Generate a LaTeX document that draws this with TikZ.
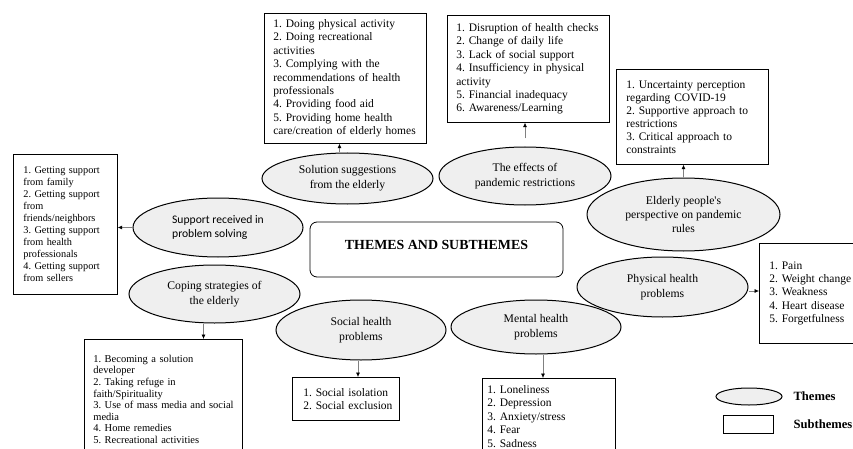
\documentclass[tikz,border=0pt]{standalone}
\usepackage{fontspec}
\setmainfont{Liberation Serif}
\newfontfamily\calibri{Carlito}
\usetikzlibrary{shapes.geometric,arrows.meta,positioning}
\definecolor{themefill}{HTML}{EFEFEF}
\tikzset{
         theme/.style={ellipse,draw=black,line width=1pt,fill=themefill,inner sep=0pt,align=center,
                       font=\fontsize{11.7}{15}\selectfont},
         subbox/.style n args={2}{rectangle,draw=black,line width=0.7pt,anchor=north west,align=left,
                        inner xsep=0pt,inner ysep=0pt,minimum width=#1,text width=#1,
                        execute at begin node={\leftskip=#2\relax\frenchspacing},
                        font=\fontsize{11.5}{13.4}\selectfont},
         link/.style={draw=black!50,line width=0.6pt,-{Latex[length=4.5pt,width=4pt,color=black]}},
         legtext/.style={anchor=west,font=\fontsize{12.6}{14}\selectfont\bfseries}
        }
\begin{document}
\begin{tikzpicture}[x=1pt,y=-1pt]
\useasboundingbox (0,0) rectangle (853,449);
\clip (0,0) rectangle (853,449);
%centre
\node[draw,rounded corners=7pt,line width=0.8pt,minimum width=253pt,minimum height=55pt,
      text height=9.2pt,text depth=9.2pt,font=\fontsize{13.9}{16}\selectfont\bfseries] (title) at (436.5,249.5) {THEMES AND SUBTHEMES};
%themes
\node[theme,minimum width=170pt,minimum height=59pt,align=left,font=\calibri\fontsize{11.6}{14}\selectfont] (sup) at (218,227.5) {Support received in\\problem solving};
\node[theme,minimum width=171pt,minimum height=58pt] (cop) at (214.5,294) {Coping strategies of\\the elderly};
\node[theme,minimum width=171pt,minimum height=51pt] (sol) at (347.5,178.5) {Solution suggestions\\from the elderly};
\node[theme,minimum width=172pt,minimum height=58pt] (eff) at (525,176) {The effects of\\pandemic restrictions};
\node[theme,minimum width=193pt,minimum height=73pt,font=\fontsize{11.7}{14.2}\selectfont] (per) at (683.5,214.5) {Elderly people\textquotesingle s\\perspective on pandemic\\rules};
\node[theme,minimum width=171pt,minimum height=60pt] (phy) at (662.5,287) {Physical health\\problems};
\node[theme,minimum width=170pt,minimum height=60pt] (soc) at (361,330) {Social health\\problems};
\node[theme,minimum width=170pt,minimum height=54pt] (men) at (536,327) {Mental health\\problems};
%subthemes
\node[subbox={104pt}{10pt},minimum height=140pt,font=\fontsize{10.3}{12}\selectfont] (supbox) at (13,154)
     {1. Getting support\\from family\\2. Getting support\\from\\friends/neighbors\\3. Getting support\\from health\\professionals\\4. Getting support\\from sellers};
\node[subbox={162pt}{9pt},minimum height=130pt] (solbox) at (264,13)
     {1. Doing physical activity\\2. Doing recreational\\activities\\3. Complying with the\\recommendations of health\\professionals\\4. Providing food aid\\5. Providing home health\\care/creation of elderly homes};
\node[subbox={162pt}{9pt},minimum height=107pt] (effbox) at (447,15)
     {1. Disruption of health checks\\2. Change of daily life\\3. Lack of social support\\4. Insufficiency in physical\\activity\\5. Financial inadequacy\\6. Awareness/Learning};
\node[subbox={152pt}{10pt},minimum height=95pt,font=\fontsize{11.5}{13}\selectfont] (perbox) at (616,69)
     {1. Uncertainty perception\\regarding COVID-19\\2. Supportive approach to\\restrictions\\3. Critical approach to\\constraints};
\node[subbox={100pt}{10pt},minimum height=100pt] (phybox) at (759,243)
     {1. Pain\\2. Weight change\\3. Weakness\\4. Heart disease\\5. Forgetfulness};
\node[subbox={158pt}{9pt},minimum height=120pt,font=\fontsize{10.5}{11.6}\selectfont] (copbox) at (84,339)
     {1. Becoming a solution\\developer\\2. Taking refuge in\\faith/Spirituality\\3. Use of mass media and social\\media\\4. Home remedies\\5. Recreational activities};
\node[subbox={107pt}{11pt},minimum height=43pt] (socbox) at (292,377)
     {1. Social isolation\\2. Social exclusion};
\node[subbox={133pt}{5pt},minimum height=76pt] (menbox) at (482,378)
     {1. Loneliness\\2. Depression\\3. Anxiety/stress\\4. Fear\\5. Sadness};
%links
\draw[link] (sup.west) -- (sup.west -| supbox.east);
\draw[link] ([xshift=-11pt]cop.south) -- ([xshift=-11pt]cop.south |- copbox.north);
\draw[link] ([xshift=-8pt]sol.north) -- ([xshift=-8pt]sol.north |- solbox.south);
\draw[link,shorten <=8pt] (eff.north) -- (eff.north |- effbox.south);
\draw[link] (per.north) -- (per.north |- perbox.south);
\draw[link] ([yshift=-4pt]phy.east) -- ([yshift=-4pt]phy.east -| phybox.west);
\draw[link] ([xshift=-3pt]soc.south) -- ([xshift=-3pt]soc.south |- socbox.north);
\draw[link] ([xshift=7pt]men.south) -- ([xshift=7pt]men.south |- menbox.north);
%legend
\node[theme,minimum width=66pt,minimum height=17pt] (legth) at (749,396.5) {};
\node[draw,line width=0.7pt,minimum width=50pt,minimum height=18pt,inner sep=0pt] (legsub) at (748,424) {};
\node[legtext] (legthtxt) at (790,396) {Themes};
\node[legtext] (legsubtxt) at (790,424) {Subthemes};
\end{tikzpicture}
\end{document}
